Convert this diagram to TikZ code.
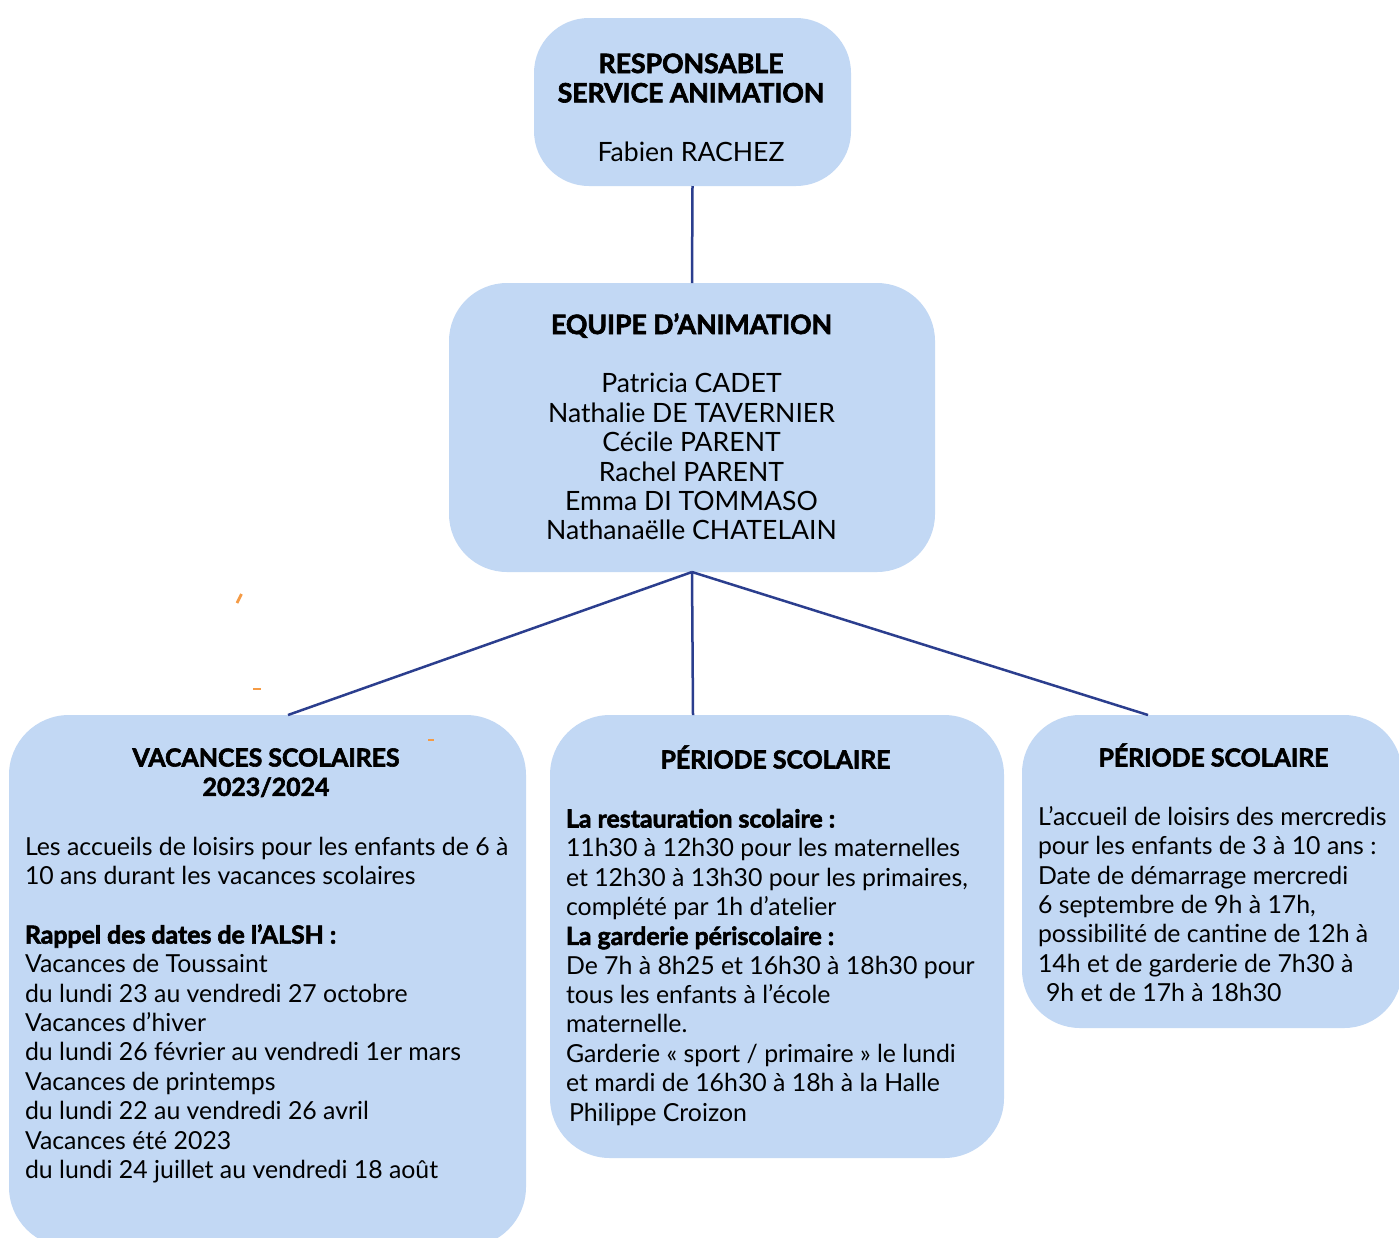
\documentclass[tikz,border=0pt]{standalone}
\usepackage{fontspec}
\setmainfont{Lato}[BoldFeatures={FakeBold=2.4}]
\usetikzlibrary{calc}
\definecolor{boxfill}{HTML}{C2D8F4}
\definecolor{linkcol}{HTML}{2B3E8E}
\definecolor{orangemark}{HTML}{F59B45}
\newcommand{\txt}{\fontsize{24.85}{29.35}\selectfont}
\newcommand{\txtbig}{\fontsize{26.6}{29.4}\selectfont}
\newcommand{\blkL}[2]{\begin{minipage}[t]{#1}\raggedright\txt #2\end{minipage}}
\newcommand{\blkC}[2]{\begin{minipage}[t]{#1}\centering\txt #2\end{minipage}}
\newcommand{\blkB}[2]{\begin{minipage}[t]{#1}\centering\txtbig #2\end{minipage}}
\begin{document}
\begin{tikzpicture}[x=1pt,y=-1pt,
  box/.style={draw=none,fill=boxfill,rectangle,inner sep=0pt,outer sep=0pt,anchor=north west},
  link/.style={draw=linkcol,line width=2.5pt},
  txtnode/.style={inner sep=0pt,outer sep=0pt},
  omark/.style={draw=orangemark,line width=2.8pt}]
\useasboundingbox (0,0) rectangle (1399,1237);
\clip (0,0) rectangle (1399,1237);
\fill[white] (0,0) rectangle (1399,1237);

% boxes
\node[box,rounded corners=55pt,minimum width=317pt,minimum height=168pt] (resp) at (534,18) {};
\node[box,rounded corners=58pt,minimum width=486pt,minimum height=289pt] (equipe) at (449,283) {};
\node[box,rounded corners=60pt,minimum width=517pt,minimum height=532pt] (vac) at (9,715) {};
\node[box,rounded corners=60pt,minimum width=454pt,minimum height=443pt] (peri) at (550,715) {};
\node[box,rounded corners=58pt,minimum width=380pt,minimum height=313pt] (merc) at (1022,715) {};

% connectors
\draw[link] (resp.south) -- (equipe.north);
\draw[link] (equipe.south) -- ($(vac.north west)+(279,0)$);
\draw[link] (equipe.south) -- ($(peri.north west)+(143,0)$);
\draw[link] (equipe.south) -- ($(merc.north west)+(126,0)$);

% texts
\node[txtnode,anchor=base] (resptxt) at (691,73) {\blkB{310pt}{\textbf{RESPONSABLE}\\\textbf{SERVICE ANIMATION}\\[29.4pt]Fabien RACHEZ}};
\node[txtnode,anchor=base] (equipetxt) at (691.5,334) {\blkB{470pt}{\textbf{EQUIPE D’ANIMATION}\\[29.4pt]Patricia CADET\\Nathalie DE TAVERNIER\\Cécile PARENT\\Rachel PARENT\\Emma DI TOMMASO\\Nathanaëlle CHATELAIN}};

\node[txtnode,anchor=base] (vactitle) at (266,766.5) {\blkC{480pt}{\textbf{VACANCES SCOLAIRES}\\\textbf{2023/2024}}};
\node[txtnode,anchor=base west] (vactxt) at (25,855.5) {\blkL{500pt}{Les accueils de loisirs pour les enfants de 6 à\\10 ans durant les vacances scolaires\\[29.35pt]\textbf{Rappel des dates de l’ALSH :}\\Vacances de Toussaint\\du lundi 23 au vendredi 27 octobre\\Vacances d’hiver\\du lundi 26 février au vendredi 1er mars\\Vacances de printemps\\du lundi 22 au vendredi 26 avril\\Vacances été 2023\\du lundi 24 juillet au vendredi 18 août}};

\node[txtnode,anchor=base] (perititle) at (775.5,768.5) {\blkC{440pt}{\textbf{PÉRIODE SCOLAIRE}}};
\node[txtnode,anchor=base west] (peritxt) at (566,827.5) {\blkL{440pt}{\textbf{La restauration scolaire :}\\11h30 à 12h30 pour les maternelles\\et 12h30 à 13h30 pour les primaires,\\complété par 1h d’atelier\\\textbf{La garderie périscolaire :}\\De 7h à 8h25 et 16h30 à 18h30 pour\\tous les enfants à l’école\\maternelle.\\Garderie « sport / primaire » le lundi\\et mardi de 16h30 à 18h à la Halle\\\hspace*{3pt}Philippe Croizon}};

\node[txtnode,anchor=base] (merctitle) at (1213.5,766.5) {\blkC{370pt}{\textbf{PÉRIODE SCOLAIRE}}};
\node[txtnode,anchor=base west] (merctxt) at (1038,825.5) {\blkL{360pt}{L’accueil de loisirs des mercredis\\pour les enfants de 3 à 10 ans :\\Date de démarrage mercredi\\6 septembre de 9h à 17h,\\possibilité de cantine de 12h à\\14h et de garderie de 7h30 à\\\hspace*{8pt}9h et de 17h à 18h30}};

% stray orange marks
\draw[omark] (237,603) -- (241.5,594);
\draw[omark] (253,689) -- (261,689);
\draw[omark] (428,740) -- (434,740);
\end{tikzpicture}
\end{document}
